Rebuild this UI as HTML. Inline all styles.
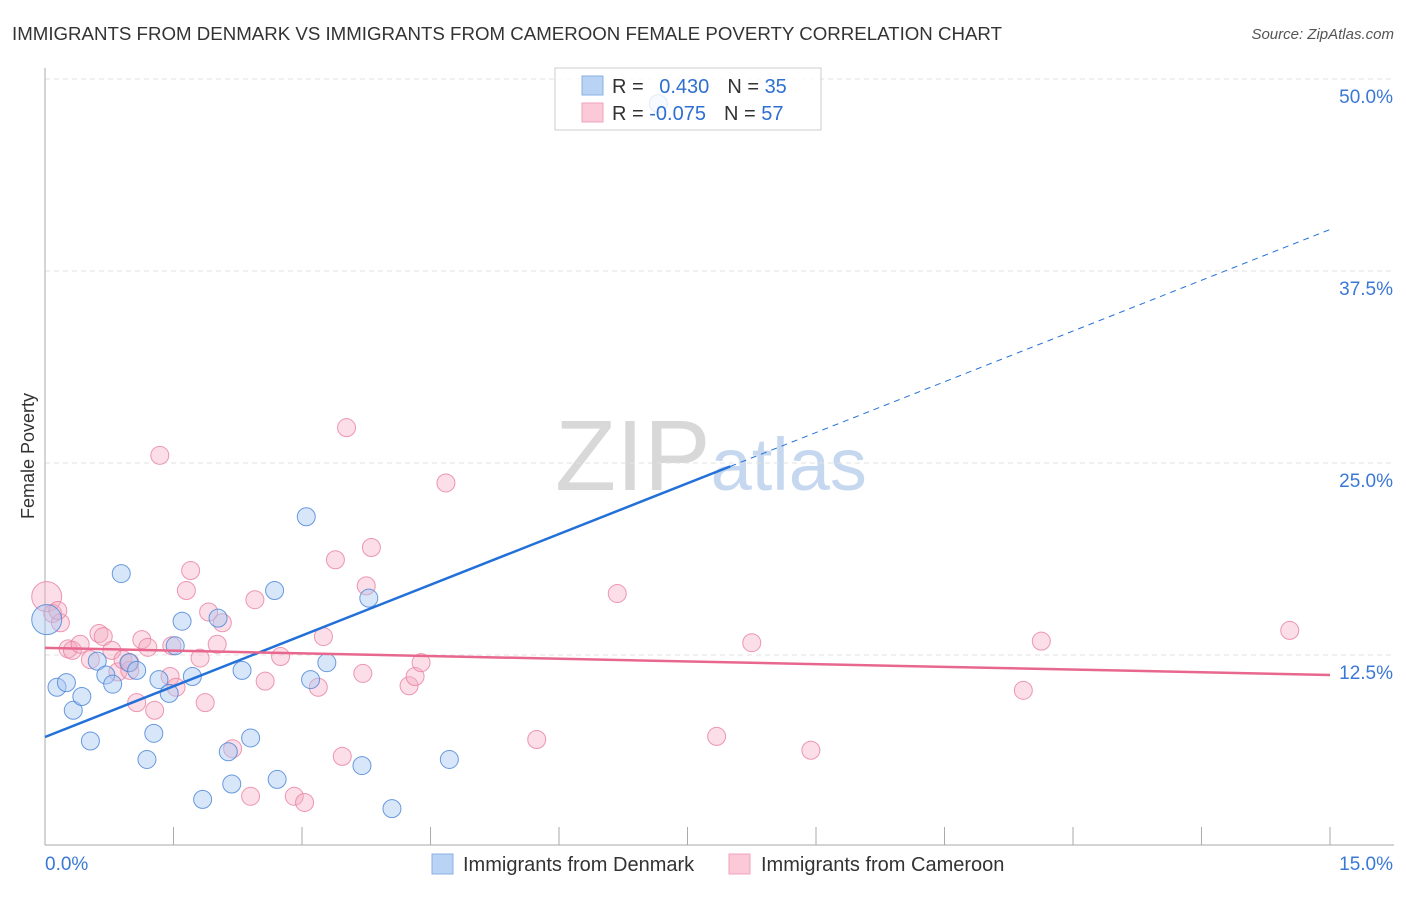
<!DOCTYPE html>
<html><head><meta charset="utf-8"><style>
body{margin:0;background:#fff;font-family:"Liberation Sans",sans-serif;}
svg text{font-family:"Liberation Sans",sans-serif;}
</style></head><body>
<svg id="chart" width="1406" height="892" xmlns="http://www.w3.org/2000/svg">
<text x="12" y="40" font-size="18" fill="#333" textLength="990" lengthAdjust="spacingAndGlyphs">IMMIGRANTS FROM DENMARK VS IMMIGRANTS FROM CAMEROON FEMALE POVERTY CORRELATION CHART</text>
<text x="1394" y="39" font-size="15" fill="#555" text-anchor="end" font-style="italic">Source: ZipAtlas.com</text>
<text transform="translate(34,456) rotate(-90)" font-size="18" fill="#333" text-anchor="middle">Female Poverty</text>
<text x="555" y="490" font-size="100" fill="#ddd" font-family="Liberation Serif"><tspan fill="#d8d8d8">ZIP</tspan><tspan fill="#c6d8ef" font-family="Liberation Sans" font-size="74">atlas</tspan></text>
<g id="grid"></g>
<g id="axes"></g>
<g id="points"></g>
<g id="lines"></g>
<g>
<rect x="555" y="68" width="266" height="62" fill="#fff" fill-opacity="0.8" stroke="#ccc"/>
<rect x="582" y="76" width="21" height="19" fill="#b9d3f5" stroke="#8ab0e6"/>
<rect x="582" y="103" width="21" height="19" fill="#fcc9d8" stroke="#f0a3bb"/>
<text x="612" y="93" font-size="20" fill="#333">R = <tspan fill="#2f6fd0" dx="10">0.430</tspan><tspan fill="#333" dx="18">N = </tspan><tspan fill="#2f6fd0">35</tspan></text>
<text x="612" y="120" font-size="20" fill="#333">R = <tspan fill="#2f6fd0">-0.075</tspan><tspan fill="#333" dx="18">N = </tspan><tspan fill="#2f6fd0">57</tspan></text>
</g>
<g>
<rect x="432" y="854" width="21" height="20" fill="#b9d3f5" stroke="#8ab0e6"/>
<text x="463" y="871" font-size="20" fill="#333">Immigrants from Denmark</text>
<rect x="729" y="854" width="21" height="20" fill="#fcc9d8" stroke="#f0a3bb"/>
<text x="761" y="871" font-size="20" fill="#333">Immigrants from Cameroon</text>
</g>
</svg>
<script>
const yTicks=[12.5,25,37.5,50];
const yTickLabels=["12.5%","25.0%","37.5%","50.0%"];
const xTickCount=10;
const xLabels=["0.0%","15.0%"];
const denmarkX=[0.02,0.14,0.25,0.33,0.43,0.53,0.61,0.71,0.79,0.89,0.98,1.07,1.19,1.27,1.33,1.45,1.52,1.60,1.72,1.84,2.02,2.14,2.18,2.30,2.40,2.68,2.71,3.05,3.10,3.29,3.70,3.78,4.05,4.72,7.16];
const denmarkY=[14.8,10.4,10.7,8.9,9.8,6.9,12.1,11.2,10.6,17.8,12.0,11.5,5.7,7.4,10.9,10.0,13.1,14.7,11.1,3.1,14.9,6.2,4.1,11.5,7.1,16.7,4.4,21.5,10.9,12.0,5.3,16.2,2.5,5.7,48.4];
const cameroonX=[0.02,0.09,0.18,0.15,0.27,0.32,0.41,0.53,0.63,0.68,0.78,0.85,0.91,0.99,1.07,1.13,1.20,1.28,1.34,1.46,1.53,1.48,1.65,1.70,1.81,1.87,1.91,2.01,2.07,2.19,2.40,2.45,2.57,2.75,2.91,3.03,3.19,3.25,3.39,3.47,3.52,3.71,3.75,3.81,4.25,4.32,4.39,4.68,5.74,6.68,7.84,8.25,8.94,11.42,11.63,14.53,0.99];
const cameroonY=[16.3,15.2,14.6,15.4,12.9,12.8,13.2,12.2,13.9,13.7,12.8,11.4,12.2,11.5,9.4,13.5,13.0,8.9,25.5,11.1,10.4,13.1,16.7,18.0,12.3,9.4,15.3,13.2,14.6,6.4,3.3,16.1,10.8,12.4,3.3,2.9,10.4,13.7,18.7,5.9,27.3,11.3,17.0,19.5,10.5,11.1,12.0,23.7,7.0,16.5,7.2,13.3,6.3,10.2,13.4,14.1,12.0];
const denmarkTrend=[7.16,40.2];
const cameroonTrend=[12.96,11.2];
const denmarkSolidEnd=8.0;

const NS="http://www.w3.org/2000/svg";
const X0=45,X1=1330,Y0=847,PXPER=15.36;
const sx=v=>X0+(v/15)*(X1-X0);
const sy=v=>Y0-v*PXPER;
function mk(tag,attrs,parent){const e=document.createElementNS(NS,tag);for(const k in attrs)e.setAttribute(k,attrs[k]);parent.appendChild(e);return e;}
const grid=document.getElementById('grid'),axes=document.getElementById('axes'),pts=document.getElementById('points'),lines=document.getElementById('lines');
yTicks.forEach((t,i)=>{
  const l=mk('line',{x1:45,x2:1394,y1:sy(t),y2:sy(t),stroke:'#e2e2e2','stroke-dasharray':'5,4'},grid);
  
  
  const tx=mk('text',{x:1393,y:sy(t)+24,'font-size':19,fill:'#3a78d6','text-anchor':'end'},grid);
  tx.textContent=yTickLabels[i];
  
  
});
const ya=mk('line',{x1:45,x2:45,y1:68,y2:845,stroke:'#aaa'},axes);


const xa=mk('line',{x1:45,x2:1394,y1:845,y2:845,stroke:'#aaa'},axes);


for(let i=1;i<=xTickCount;i++){
  const v=15*i/xTickCount;
  const t=mk('line',{x1:sx(v),x2:sx(v),y1:827,y2:845,stroke:'#aaa'},axes);
  
  
}
const xl0=mk('text',{x:45,y:870,'font-size':19,fill:'#3a78d6'},axes);xl0.textContent=xLabels[0];


const xl1=mk('text',{x:1393,y:870,'font-size':19,fill:'#3a78d6','text-anchor':'end'},axes);xl1.textContent=xLabels[1];


function drawSeries(xs,ys,fill,stroke,name){
  xs.forEach((x,i)=>{
    const r=(i===0)?15:9;
    const c=mk('circle',{cx:sx(x),cy:sy(ys[i]),r:r,fill:fill,stroke:stroke,'stroke-width':1},pts);
    
    
  });
}
drawSeries(cameroonX,cameroonY,'rgba(246,172,196,0.4)','rgba(232,128,160,0.8)','cameroon-point');
drawSeries(denmarkX,denmarkY,'rgba(168,200,242,0.45)','rgba(70,130,215,0.8)','denmark-point');
const dAt=x=>denmarkTrend[0]+(denmarkTrend[1]-denmarkTrend[0])*x/15;
const ds=mk('line',{x1:sx(0),y1:sy(dAt(0)),x2:sx(denmarkSolidEnd),y2:sy(dAt(denmarkSolidEnd)),stroke:'#2270d8','stroke-width':2.5},lines);


const dd=mk('line',{x1:sx(denmarkSolidEnd),y1:sy(dAt(denmarkSolidEnd)),x2:sx(15),y2:sy(dAt(15)),stroke:'#2270d8','stroke-width':1,'stroke-dasharray':'6,5'},lines);


const cl=mk('line',{x1:sx(0),y1:sy(cameroonTrend[0]),x2:sx(15),y2:sy(cameroonTrend[1]),stroke:'#e8678f','stroke-width':2.5},lines);


</script>
</body></html>
